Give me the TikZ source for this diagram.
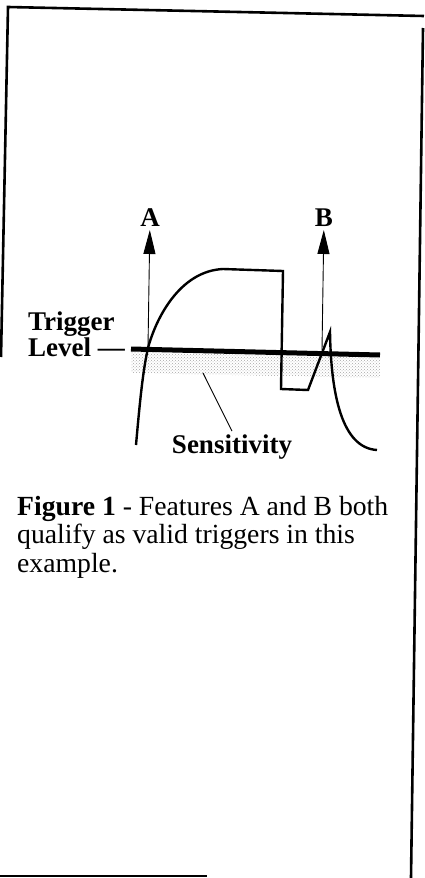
\documentclass[tikz,border=0pt]{standalone}
\usepackage{fontspec}
\setmainfont{Liberation Serif}
\usetikzlibrary{arrows.meta,patterns}

\begin{document}
\begin{tikzpicture}[
  x=1pt, y=-1pt,
  >={Triangle[length=24pt,width=12pt]},
  every node/.style={font=\fontsize{27}{22}\selectfont\bfseries, inner sep=0pt},
  feat/.style={anchor=south, inner sep=3pt},
  frame/.style={line width=2.6pt},
  signal/.style={line width=2.4pt, line join=miter},
  level/.style={line width=5pt},
  thin/.style={line width=0.9pt}
]
  \useasboundingbox (0,0) rectangle (424,878);

  \draw[frame] (424,16) -- (8,7) -- (1,357);
  \draw[frame] (423,28) -- (411,878);
  \draw[frame] (0,876) -- (207,876);

  \node[anchor=base west, align=left] (trig) at (28,356) {Trigger\\Level ---};
  \coordinate (l0) at (131,349);
  \coordinate (l1) at (380,355);
  \fill[pattern=crosshatch dots, pattern color=black!35]
    (131,352) -- (380,358) -- (380,378) -- (131,373) -- cycle;
  \draw[level] (l0) -- (l1);

  \draw[signal] (136,445) .. controls (140,400) and (143,370) .. (148,348)
    .. controls (156,318) and (180,271) .. (223,269) -- (283,271)
    -- (281,389) -- (308,390) -- (330,332)
    .. controls (331,395) and (342,448) .. (377,450);

  \node[feat] (A) at (150,230) {A};
  \node[feat] (B) at (324,230) {B};
  \coordinate (ca) at (148,347);
  \coordinate (cb) at (322,350);
  \draw[thin,->] (ca) -- (A);
  \draw[thin,->] (cb) -- (B);

  \node[anchor=base, inner sep=3pt] (sens) at (232,453) {Sensitivity};
  \coordinate (sp) at (203,373);
  \draw[thin] (sp) -- (sens.north);

  \node[anchor=base west, align=left, font=\fontsize{27.7}{28.5}\selectfont] (cap) at (17,572)
    {\textbf{Figure 1} - Features A and B both\\qualify as valid triggers in this\\example.};
\end{tikzpicture}
\end{document}
